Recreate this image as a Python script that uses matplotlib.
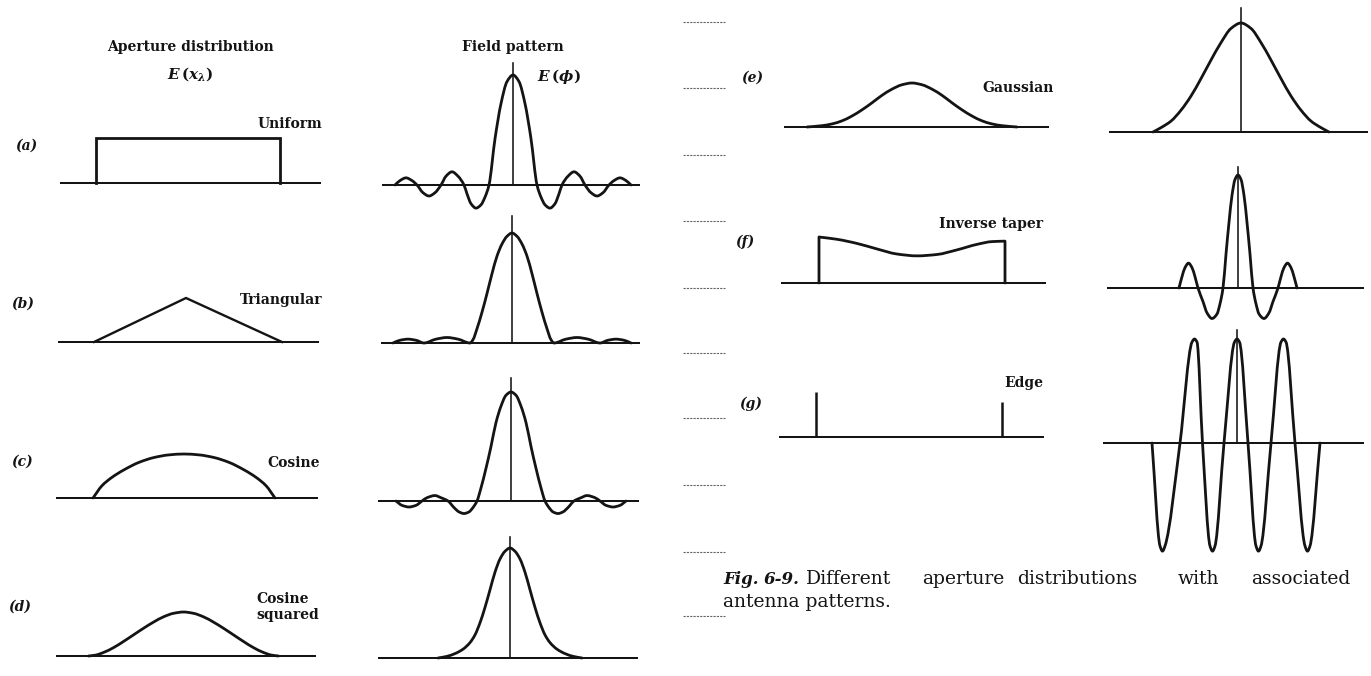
import numpy as np
import matplotlib
matplotlib.use("Agg")
import matplotlib.pyplot as plt
from matplotlib.path import Path
from matplotlib.patches import PathPatch

# ---------------- data ----------------
# aperture distributions: x offset from aperture centre, relative amplitude
ap_uniform_x = [-92, -92, 92, 92]
ap_uniform_y = [0, 1, 1, 0]
ap_triangular_x = [-94, -2, 94]
ap_triangular_y = [0, 1, 0]
ap_cosine_x = [-91, -82, -72, -60, -45, -30, -15, 0, 15, 30, 45, 60, 72, 82, 91]
ap_cosine_y = [0, 0.28, 0.47, 0.64, 0.81, 0.92, 0.98, 1, 0.98, 0.92, 0.81, 0.64, 0.47, 0.28, 0]
ap_cos2_x = [-95, -88, -80, -70, -60, -50, -40, -30, -20, -10, 0,
             10, 20, 30, 40, 50, 60, 70, 80, 88, 95]
ap_cos2_y = [0, 0.02, 0.08, 0.19, 0.33, 0.48, 0.63, 0.77, 0.89, 0.97, 1,
             0.97, 0.89, 0.77, 0.63, 0.48, 0.33, 0.19, 0.08, 0.02, 0]
ap_gauss_x = [-105, -90, -80, -70, -60, -50, -40, -30, -20, -10, 0,
              10, 20, 30, 40, 50, 60, 70, 80, 90, 105]
ap_gauss_y = [0, 0.03, 0.07, 0.14, 0.25, 0.39, 0.55, 0.72, 0.86, 0.96, 1,
              0.96, 0.86, 0.72, 0.55, 0.39, 0.25, 0.14, 0.07, 0.03, 0]
ap_inverse_x = [-93, -75, -55, -35, -15, 5, 25, 45, 65, 80, 93]
ap_inverse_y = [1.0, 0.95, 0.86, 0.74, 0.63, 0.59, 0.62, 0.72, 0.84, 0.9, 0.91]
ap_edge_x = [-93, 93]
ap_edge_y = [1.0, 0.78]

# field patterns: angle offset from boresight, relative field
fp_uniform_x = [-118, -113, -107, -101, -96, -90, -84, -78, -72, -67, -61, -55, -49,
                -46, -42, -37, -32, -28, -24, -18, -12, -6, 0, 6, 12, 18,
                24, 28, 32, 37, 42, 46, 49, 55, 61, 67, 72, 78, 84, 90, 96, 101, 107, 113, 118]
fp_uniform_y = [0, 0.04, 0.065, 0.04, 0, -0.07, -0.10, -0.07, 0, 0.08, 0.12, 0.08, 0,
                -0.08, -0.17, -0.21, -0.18, -0.11, 0, 0.42, 0.74, 0.94, 1, 0.94, 0.74, 0.42,
                0, -0.11, -0.18, -0.21, -0.17, -0.08, 0, 0.08, 0.12, 0.08, 0, -0.07, -0.10,
                -0.07, 0, 0.04, 0.065, 0.04, 0]
fp_triangular_x = [-119, -112, -104, -96, -88, -76, -65, -54, -42, -39, -35, -30, -25, -20,
                   -15, -10, -5, 0, 5, 10, 15, 20, 25, 30, 35, 39, 42, 54, 65, 76, 88, 96,
                   104, 112, 119]
fp_triangular_y = [0, 0.025, 0.035, 0.025, 0, 0.035, 0.05, 0.035, 0, 0.03, 0.13, 0.28, 0.45,
                   0.63, 0.79, 0.9, 0.97, 1, 0.97, 0.9, 0.79, 0.63, 0.45, 0.28, 0.13, 0.03, 0,
                   0.035, 0.05, 0.035, 0, 0.025, 0.035, 0.025, 0]
fp_cosine_x = [-115, -109, -102, -95, -89, -84, -76, -70, -63, -57, -52, -47, -42, -38, -34,
               -30, -25, -20, -15, -10, -5, 0, 5, 10, 15, 20, 25, 30, 34, 38, 42, 47, 52, 57,
               63, 70, 76, 84, 89, 95, 102, 109, 115]
fp_cosine_y = [0, -0.04, -0.055, -0.04, 0, 0.03, 0.05, 0.03, 0, -0.06, -0.1, -0.115, -0.1,
               -0.06, 0, 0.12, 0.3, 0.5, 0.72, 0.87, 0.97, 1, 0.97, 0.87, 0.72, 0.5, 0.3, 0.12,
               0, -0.06, -0.1, -0.115, -0.1, -0.06, 0, 0.03, 0.05, 0.03, 0, -0.04, -0.055, -0.04, 0]
fp_cos2_x = [-72, -63, -55, -47, -40, -35, -30, -25, -20, -15, -10, -5, 0,
             5, 10, 15, 20, 25, 30, 35, 40, 47, 55, 63, 72]
fp_cos2_y = [0, 0.015, 0.04, 0.08, 0.14, 0.21, 0.32, 0.46, 0.62, 0.78, 0.9, 0.97, 1,
             0.97, 0.9, 0.78, 0.62, 0.46, 0.32, 0.21, 0.14, 0.08, 0.04, 0.015, 0]
fp_gauss_x = [-88, -80, -70, -60, -50, -40, -30, -20, -10, 0, 10, 20, 30, 40, 50, 60, 70, 80, 88]
fp_gauss_y = [0, 0.04, 0.1, 0.2, 0.33, 0.49, 0.66, 0.82, 0.95, 1, 0.95, 0.82, 0.66, 0.49,
              0.33, 0.2, 0.1, 0.04, 0]
fp_inverse_x = [-59, -56, -53, -49.5, -46, -43, -40, -35, -31, -26, -21, -18, -15, -12, -9,
                -6, -3, 0, 3, 6, 9, 12, 15, 18, 21, 26, 31, 35, 40, 43, 46, 49.5, 53, 56, 59]
fp_inverse_y = [0, 0.1, 0.18, 0.22, 0.18, 0.1, 0, -0.12, -0.22, -0.27, -0.23, -0.14, 0, 0.3,
                0.58, 0.82, 0.96, 1, 0.96, 0.82, 0.58, 0.3, 0, -0.14, -0.23, -0.27, -0.22,
                -0.12, 0, 0.1, 0.18, 0.22, 0.18, 0.1, 0]
fp_edge_x = [-85, -77, -74.5, -72, -57, -45, -42.5, -40, -34.5, -27, -24.5, -22, -13, -2.5, 0,
             2.5, 11, 19, 21.5, 24, 34, 44, 46.5, 49, 58, 68, 70.5, 73, 83]
fp_edge_y = [0, -0.99, -1.04, -0.99, 0, 0.97, 1, 0.97, 0, -0.99, -1.04, -0.99, 0, 0.97, 1,
             0.97, 0, -0.99, -1.04, -0.99, 0, 0.97, 1, 0.97, 0, -0.99, -1.04, -0.99, 0]

panel_letters = ["(a)", "(b)", "(c)", "(d)", "(e)", "(f)", "(g)"]
distribution_names = ["Uniform", "Triangular", "Cosine", "Cosine\nsquared",
                      "Gaussian", "Inverse taper", "Edge"]
caption_lead = ["Fig.", "6-9."]
caption_line1 = ["Different", "aperture", "distributions", "with", "associated"]
caption_line2 = "antenna patterns."

# ---------------- style / layout (pixels) ----------------
W, H, DPI = 1371, 676, 100
INK = "#141414"
CURVE_LW = 2.0
BASE_LW = 1.45
AXIS_LW = 1.15
SERIF = "DejaVu Serif"

plt.rcParams["mathtext.fontset"] = "custom"
plt.rcParams["mathtext.rm"] = "DejaVu Serif:bold"
plt.rcParams["mathtext.it"] = "DejaVu Serif:italic:bold"
plt.rcParams["mathtext.bf"] = "DejaVu Serif:bold"

fig = plt.figure(figsize=(W / DPI, H / DPI), dpi=DPI)
fig.patch.set_facecolor("white")


def panel(x0, x1, ybase, amp, xc, ytop=1.3, ybot=1.2):
    top_px = ybase - ytop * amp
    bot_px = ybase + ybot * amp
    ax = fig.add_axes([x0 / W, 1 - bot_px / H, (x1 - x0) / W, (bot_px - top_px) / H])
    ax.set_xlim(x0 - xc, x1 - xc)
    ax.set_ylim(-ybot, ytop)
    ax.axis("off")
    ax.axhline(0, color=INK, lw=BASE_LW, clip_on=False, zorder=2)
    return ax


def pchip_path(xs, ys):
    """Shape-preserving cubic (Fritsch-Carlson) drawn as Bezier segments."""
    xs = np.asarray(xs, float)
    ys = np.asarray(ys, float)
    n = len(xs)
    h = np.diff(xs)
    d = np.diff(ys) / h
    m = np.zeros(n)
    m[0], m[-1] = d[0], d[-1]
    for i in range(1, n - 1):
        if d[i - 1] * d[i] > 0:
            w1 = 2 * h[i] + h[i - 1]
            w2 = h[i] + 2 * h[i - 1]
            m[i] = (w1 + w2) / (w1 / d[i - 1] + w2 / d[i])
    verts = [(xs[0], ys[0])]
    codes = [Path.MOVETO]
    for i in range(n - 1):
        verts += [(xs[i] + h[i] / 3, ys[i] + m[i] * h[i] / 3),
                  (xs[i + 1] - h[i] / 3, ys[i + 1] - m[i + 1] * h[i] / 3),
                  (xs[i + 1], ys[i + 1])]
        codes += [Path.CURVE4] * 3
    return verts, codes


def draw_smooth(ax, xs, ys, start=None, end=None):
    verts, codes = pchip_path(xs, ys)
    if start is not None:
        verts = [start] + verts
        codes = [Path.MOVETO, Path.LINETO] + codes[1:]
    if end is not None:
        verts = verts + [end]
        codes = codes + [Path.LINETO]
    ax.add_patch(PathPatch(Path(verts, codes), fill=False, edgecolor=INK, lw=CURVE_LW,
                           capstyle="round", joinstyle="round", clip_on=False, zorder=3))


def center_line(ax, top):
    ax.plot([0, 0], [0, top], color=INK, lw=AXIS_LW, clip_on=False, zorder=2)


def ftext(x, y, s, **kw):
    kw.setdefault("color", INK)
    fig.text(x / W, 1 - y / H, s, **kw)


# ---------------- aperture distributions ----------------
ax = panel(61, 320, 183, 45, 188)
ax.plot(ap_uniform_x, ap_uniform_y, color=INK, lw=CURVE_LW, solid_joinstyle="miter",
        clip_on=False, zorder=3)
ax = panel(59, 318, 342, 44, 188)
ax.plot(ap_triangular_x, ap_triangular_y, color=INK, lw=CURVE_LW * 0.85,
        solid_joinstyle="miter", clip_on=False, zorder=3)
ax = panel(57, 317, 498, 44, 184)
draw_smooth(ax, ap_cosine_x, ap_cosine_y)
ax = panel(57, 315, 656, 44, 183.5)
draw_smooth(ax, ap_cos2_x, ap_cos2_y)
ax = panel(785, 1048, 127, 44, 912)
draw_smooth(ax, ap_gauss_x, ap_gauss_y)
ax = panel(782, 1045, 283, 46, 912)
draw_smooth(ax, ap_inverse_x, ap_inverse_y, start=(ap_inverse_x[0], 0),
            end=(ap_inverse_x[-1], 0))
ax = panel(780, 1043, 437, 45, 909)
ax.vlines(ap_edge_x, 0, ap_edge_y, color=INK, lw=CURVE_LW * 0.9, clip_on=False, zorder=3)

# ---------------- field patterns ----------------
field_panels = [
    ((383, 639, 185, 110, 513), fp_uniform_x, fp_uniform_y, 1.11),
    ((382, 639, 343, 110, 512), fp_triangular_x, fp_triangular_y, 1.15),
    ((379, 638, 501, 109, 511), fp_cosine_x, fp_cosine_y, 1.13),
    ((379, 637, 658, 110, 510), fp_cos2_x, fp_cos2_y, 1.10),
    ((1110, 1367, 132, 109, 1241), fp_gauss_x, fp_gauss_y, 1.14),
    ((1108, 1363, 288, 113, 1238), fp_inverse_x, fp_inverse_y, 1.07),
    ((1104, 1363, 443, 104, 1237), fp_edge_x, fp_edge_y, 1.09),
]
for geom, xs, ys, top in field_panels:
    ax = panel(*geom)
    center_line(ax, top)
    draw_smooth(ax, xs, ys)

# ---------------- texts ----------------
bold = dict(family=SERIF, fontweight="bold", fontsize=10)
ftext(190, 47, "Aperture distribution", ha="center", va="center", **bold)
ftext(190, 74, r"$E\,(x_\lambda)$", ha="center", va="center", fontsize=11)
ftext(513, 47, "Field pattern", ha="center", va="center", **bold)
ftext(537, 77, r"$E\,(\phi)$", ha="left", va="center", fontsize=11)

letter_pos = [(15, 146), (11, 304), (11, 462), (8, 607), (741, 78), (735, 242), (739, 404)]
for (x, y), s in zip(letter_pos, panel_letters):
    ftext(x, y, s, ha="left", va="center", family=SERIF, fontweight="bold",
          fontstyle="italic", fontsize=10)

name_pos = [(322, 124, "right"), (322, 300, "right"), (320, 463, "right"), (256, 607, "left"),
            (982, 88, "left"), (1043, 224, "right"), (1043, 383, "right")]
for (x, y, ha), s in zip(name_pos, distribution_names):
    ftext(x, y, s, ha=ha, va="center", linespacing=1.25, **bold)

# caption (justified first line)
cap_font = dict(family=SERIF, fontsize=13.5, va="center")
lead_font = dict(family=SERIF, fontsize=12, va="center", fontweight="bold", fontstyle="italic")
ftext(723, 579, caption_lead[0], ha="left", **lead_font)
ftext(764, 579, caption_lead[1], ha="left", **lead_font)
for x, w in zip([806, 922, 1017, 1178, 1251], caption_line1):
    ftext(x, 579, w, ha="left", **cap_font)
ftext(723, 602, caption_line2, ha="left", **cap_font)

# faint ruled marks of the scanned page
for y in [22, 88, 155, 221, 288, 353, 418, 485, 552, 616]:
    fig.add_artist(plt.Line2D([683 / W, 725 / W], [1 - y / H, 1 - y / H], color="#666666",
                              lw=0.8, ls=(0, (2, 1)), transform=fig.transFigure))

fig.savefig("out.png", dpi=DPI, facecolor="white")
